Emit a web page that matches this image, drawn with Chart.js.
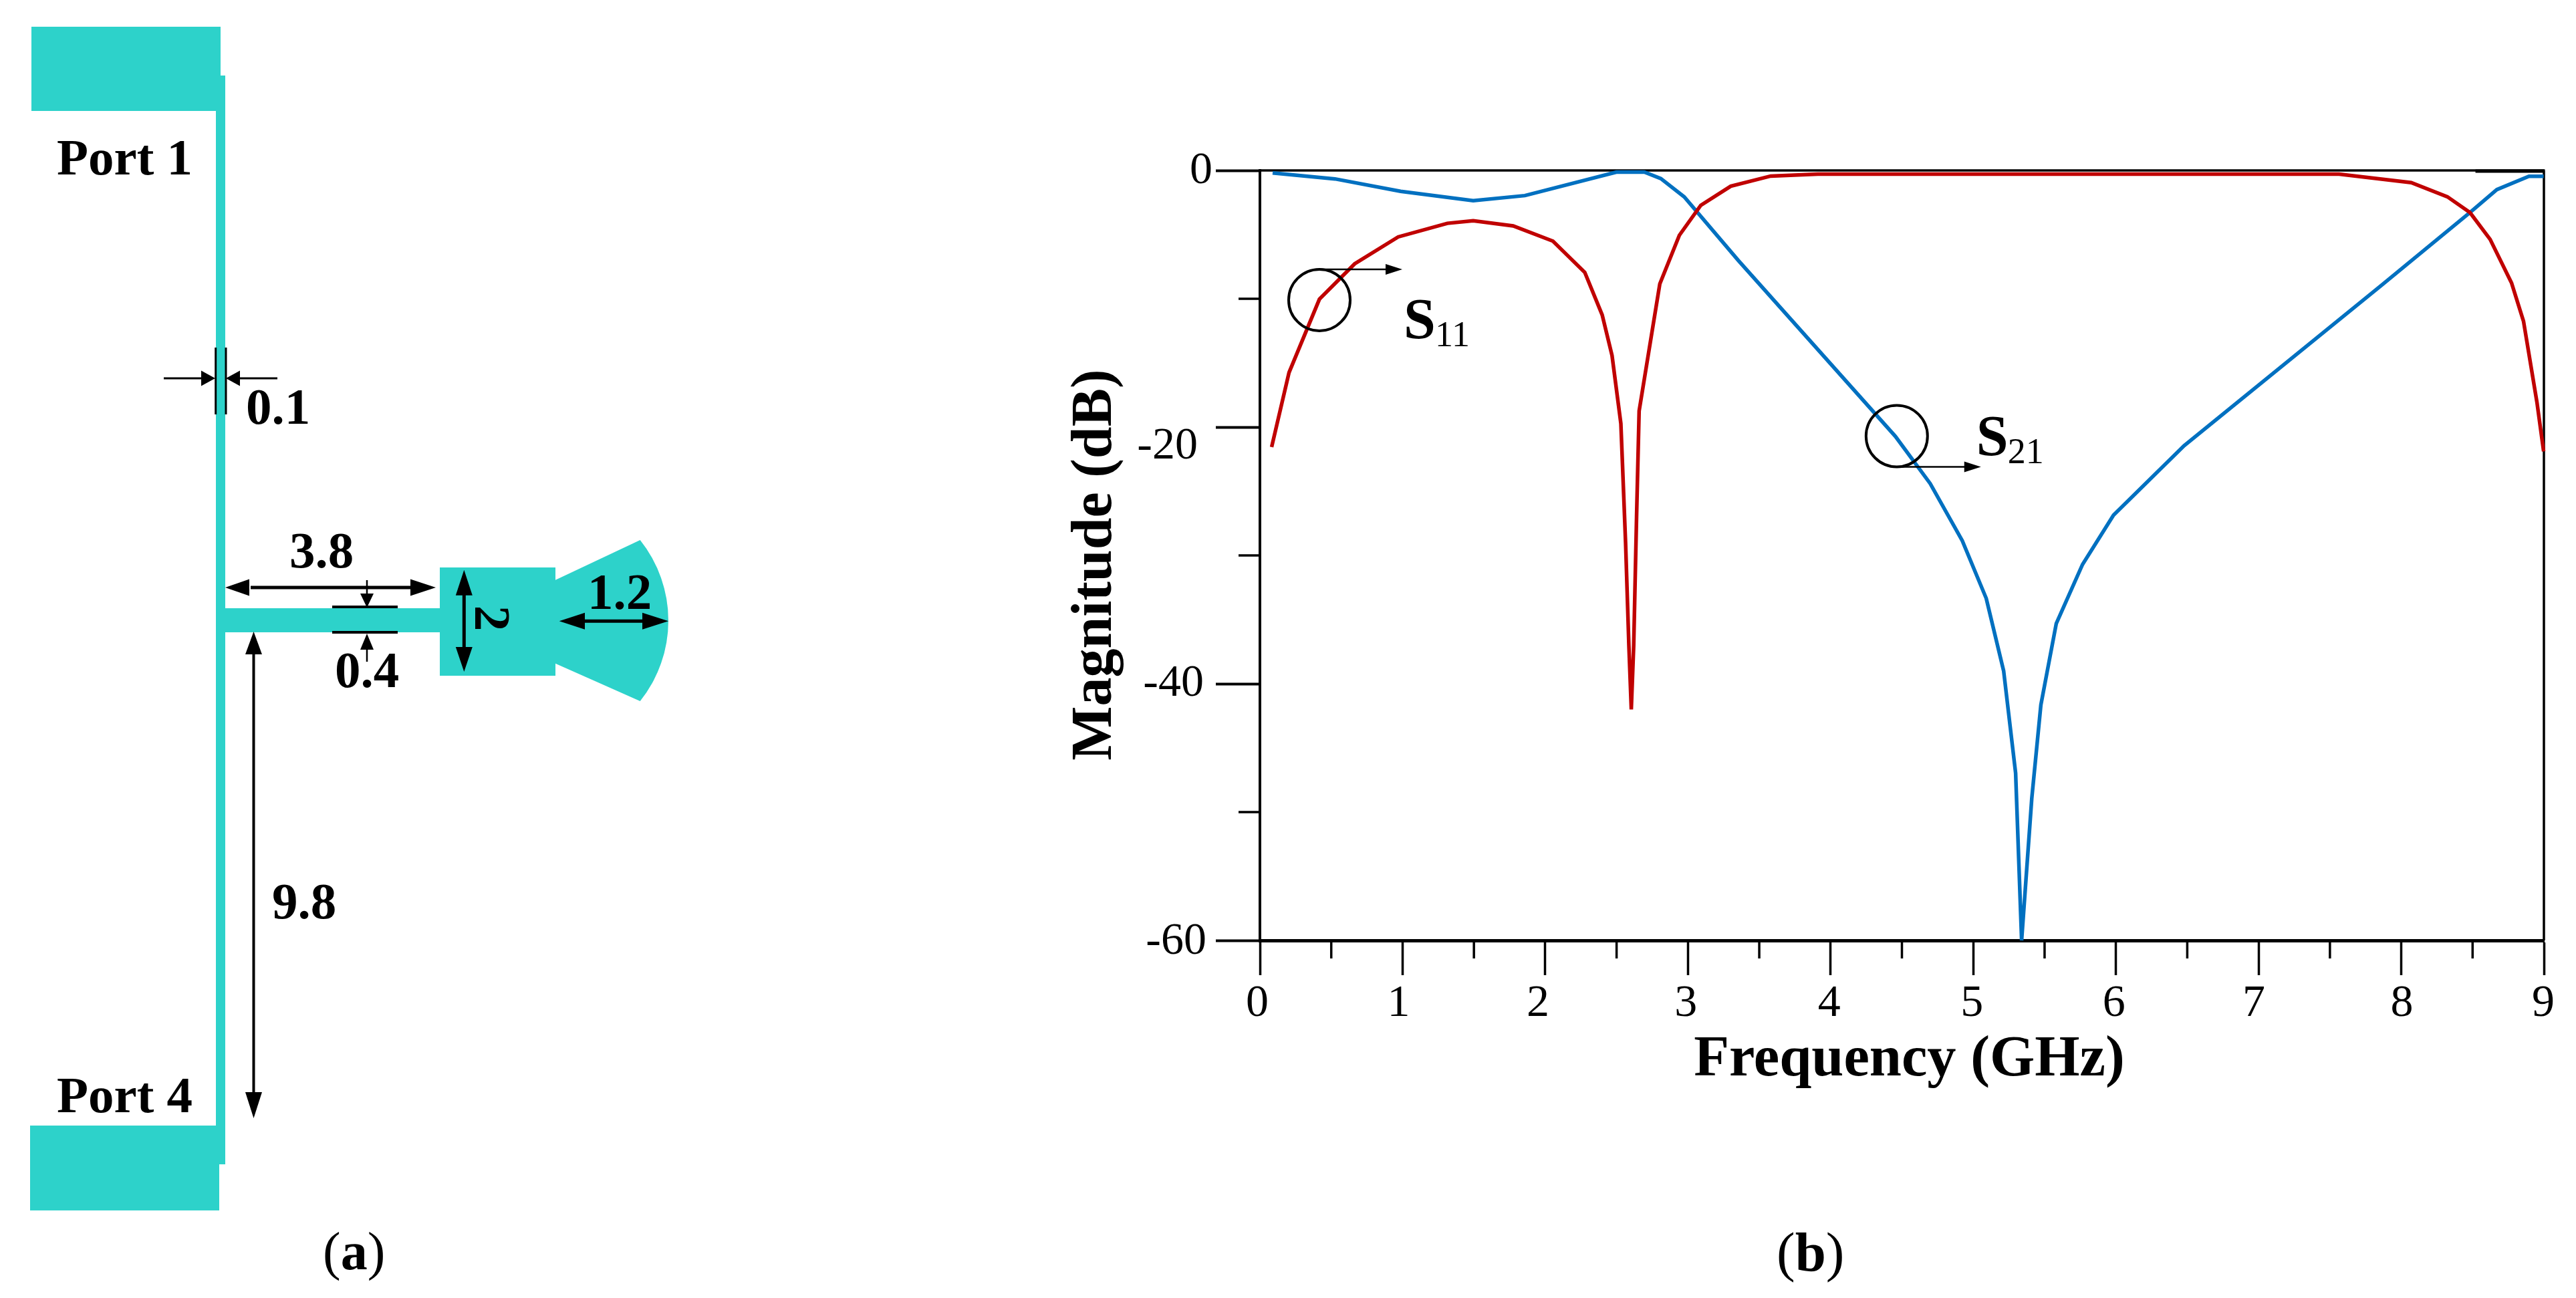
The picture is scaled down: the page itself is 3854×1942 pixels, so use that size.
<!DOCTYPE html>
<html>
<head>
<meta charset="utf-8">
<script src="https://cdn.jsdelivr.net/npm/chart.js@4/dist/chart.umd.js"></script>
<style>
html,body{margin:0;padding:0;background:#fff;width:3854px;height:1942px;overflow:hidden}
#wrap{position:relative;width:3854px;height:1942px}
canvas{position:absolute;left:0;top:0}
svg{position:absolute;left:0;top:0}
svg text{font-family:"Liberation Serif",serif;font-weight:bold;fill:#000}
</style>
</head>
<body>
<div id="wrap">
<canvas id="c" width="3854" height="1942"></canvas>
<svg width="3854" height="1942" viewBox="0 0 3854 1942" xmlns="http://www.w3.org/2000/svg">
  <g fill="#2dd2ca">
    <rect x="47" y="40" width="283" height="126"/>
    <rect x="323" y="113" width="14" height="1629"/>
    <rect x="45" y="1684" width="283" height="127"/>
    <rect x="337" y="910" width="321" height="36"/>
    <rect x="658" y="849" width="173" height="162"/>
    <path d="M831 867.7 L957.7 808 A193 193 0 0 1 957.7 1049 L831 992.7 Z"/>
  </g>
  <g stroke="#000" fill="none">
    <path d="M322.7 520V620M338 520V620" stroke-width="3"/>
    <path d="M245 566H305M415 566H355" stroke-width="3"/>
    <path d="M375 879H620" stroke-width="5"/>
    <path d="M549 868V892M549 968V990" stroke-width="2.5"/>
    <path d="M497 908H595M497 946H595" stroke-width="4"/>
    <path d="M694.3 885V975" stroke-width="5"/>
    <path d="M870 929.3H965" stroke-width="5"/>
    <path d="M379.5 975V1640" stroke-width="4"/>
  </g>
  <g fill="#000">
    <path d="M322 566L301 554.5V577.5Z"/>
    <path d="M338 566L359 554.5V577.5Z"/>
    <path d="M337 879L373 866.5V891.5Z"/>
    <path d="M652 879L614 866.5V891.5Z"/>
    <path d="M549 909L539 888H559Z"/>
    <path d="M549 948L539 972H559Z"/>
    <path d="M694.3 852.7L681.8 890.7H706.8Z"/>
    <path d="M694.3 1005L681.8 968H706.8Z"/>
    <path d="M836.7 929.3L875 916.8V941.8Z"/>
    <path d="M1000 929.3L961 916.8V941.8Z"/>
    <path d="M379.5 945L367 979H392Z"/>
    <path d="M379.5 1673L367 1634H392Z"/>
  </g>
  <g font-size="77">
    <text x="85" y="261">Port 1</text>
    <text x="85" y="1664">Port 4</text>
    <text x="368" y="634">0.1</text>
    <text x="433" y="849">3.8</text>
    <text x="501" y="1028">0.4</text>
    <text x="879" y="911">1.2</text>
    <text x="407" y="1374">9.8</text>
    <text text-anchor="middle" transform="translate(711,925) rotate(90)">2</text>
  </g>
  <g font-size="80">
    <text x="483" y="1899"><tspan font-weight="normal">(</tspan>a<tspan font-weight="normal">)</tspan></text>
  </g>
  <g font-size="83">
    <text x="2658" y="1901"><tspan font-weight="normal">(</tspan>b<tspan font-weight="normal">)</tspan></text>
  </g>
</svg>
</div>
<script>
// ---- chart data ----
const s11Freq = [0.082,0.204,0.417,0.664,0.969,1.314,1.495,1.775,2.054,2.277,2.399,2.468,2.53,2.563,2.586,2.603,2.62,2.64,2.658,2.803,2.94,3.09,3.30,3.58,3.911,5,6,7,7.564,8.07,8.323,8.482,8.623,8.773,8.857,8.951,8.998];
const s11Db   = [-21.56,-15.75,-10.03,-7.28,-5.18,-4.12,-3.92,-4.32,-5.51,-7.94,-11.26,-14.42,-19.73,-29,-37,-42,-37,-27,-18.74,-8.84,-5.05,-2.72,-1.23,-0.44,-0.29,-0.29,-0.29,-0.29,-0.29,-0.95,-2.05,-3.28,-5.37,-8.76,-11.75,-18.06,-21.9];
const s21Freq = [0.089,0.526,0.986,1.495,1.857,2.498,2.695,2.81,2.974,3.352,4.454,4.698,4.923,5.091,5.213,5.297,5.339,5.41,5.474,5.582,5.766,5.983,6.478,7.864,8.482,8.67,8.895,8.998];
const s21Db   = [-0.2,-0.66,-1.63,-2.36,-1.96,-0.13,-0.13,-0.63,-2.06,-7.0,-20.72,-24.4,-28.85,-33.35,-39,-46.96,-60,-48.96,-41.65,-35.3,-30.7,-26.86,-21.45,-8.93,-3.28,-1.49,-0.46,-0.46];
const xTickLabels = ['0','1','2','3','4','5','6','7','8','9'];
const yTickLabels = ['0','-20','-40','-60'];
const xMinorTicks = [0.5,1.5,2.5,3.5,4.5,5.5,6.5,7.5,8.5];
const yMinorTicks = [-10,-30,-50];
const seriesNames = ['S11','S21'];

// ---- styling ----
const RED = '#c00000', BLUE = '#0070c0';
const SERIF = '"Liberation Serif", serif';
const xLabelShift = [-4,-6,-11,-3,-2,-2,-3,-7,1,-1];
const yLabelShift = {0:[0,1], '-20':[-22,29], '-40':[-13,0], '-60':[-9,2]};
const toPts = (xs, ys) => xs.map((x, i) => ({x, y: ys[i]}));

const adjustAxes = {
  id: 'adjustAxes',
  afterLayout(chart) {
    const wrap = (s, dx, dy) => {
      if (s._wrapped) return;
      s._wrapped = true;
      const orig = s.drawTitle.bind(s);
      s.drawTitle = function () {
        const c = s.ctx; c.save(); c.translate(dx, dy); orig(); c.restore();
      };
    };
    wrap(chart.scales.x, 11, 0);
    wrap(chart.scales.y, 0, 14);
  },
  beforeDraw(chart) {
    const {x, y} = chart.scales;
    x.getLabelItems(chart.chartArea).forEach((it, i) => { it.options.translation[0] += xLabelShift[i] || 0; });
    y.getLabelItems(chart.chartArea).forEach((it) => {
      const d = yLabelShift[it.label] || [0, 0];
      it.options.translation[0] += d[0];
      it.options.translation[1] += d[1];
    });
  },
  beforeDatasetsDraw(chart) {
    const {ctx, chartArea: a, scales: {x, y}} = chart;
    ctx.save();
    ctx.strokeStyle = '#000';
    ctx.lineCap = 'butt';
    ctx.lineWidth = 3.5;
    ctx.beginPath();
    ctx.moveTo(a.left, a.top); ctx.lineTo(a.right + 1.5, a.top);
    ctx.moveTo(a.right, a.top); ctx.lineTo(a.right, a.bottom);
    ctx.stroke();
    ctx.lineWidth = 5;
    ctx.beginPath();
    ctx.moveTo(x.getPixelForValue(8.52), a.top + 1); ctx.lineTo(a.right, a.top + 1);
    ctx.stroke();
    ctx.lineWidth = 3.5;
    ctx.beginPath();
    xMinorTicks.forEach(v => { const p = x.getPixelForValue(v); ctx.moveTo(p, a.bottom); ctx.lineTo(p, a.bottom + 27); });
    yMinorTicks.forEach(v => { const p = y.getPixelForValue(v); ctx.moveTo(a.left, p); ctx.lineTo(a.left - 32, p); });
    ctx.stroke();
    ctx.restore();
  },
  afterDatasetsDraw(chart) {
    const {ctx, scales: {x, y}} = chart;
    const marker = (cf, cd, r, arrowDir, endF) => {
      const cx = x.getPixelForValue(cf), cy = y.getPixelForValue(cd);
      ctx.strokeStyle = '#000'; ctx.fillStyle = '#000';
      ctx.lineWidth = 4;
      ctx.beginPath(); ctx.arc(cx, cy, r, 0, Math.PI * 2); ctx.stroke();
      const ay = cy + arrowDir * r, ex = x.getPixelForValue(endF);
      ctx.lineWidth = 2.5;
      ctx.beginPath(); ctx.moveTo(cx, ay); ctx.lineTo(ex - 20, ay); ctx.stroke();
      ctx.beginPath(); ctx.moveTo(ex, ay); ctx.lineTo(ex - 25, ay - 8); ctx.lineTo(ex - 25, ay + 8); ctx.closePath(); ctx.fill();
    };
    const sLabel = (name, f, d) => {
      const px = x.getPixelForValue(f), py = y.getPixelForValue(d);
      ctx.fillStyle = '#000';
      ctx.textAlign = 'left'; ctx.textBaseline = 'alphabetic';
      ctx.font = 'bold 86px ' + SERIF;
      ctx.fillText(name[0], px - 3, py);
      ctx.font = '54px ' + SERIF;
      ctx.fillText(name.slice(1), px + 44, py + 12);
    };
    ctx.save();
    marker(0.417, -10.1, 46, -1, 0.998);
    marker(4.464, -20.7, 46, 1, 5.054);
    sLabel(seriesNames[0], 1.021, -13.07);
    sLabel(seriesNames[1], 5.035, -22.19);
    ctx.restore();
  }
};

new Chart(document.getElementById('c'), {
  type: 'scatter',
  data: {
    datasets: [
      {label: seriesNames[0], data: toPts(s11Freq, s11Db), showLine: true, borderColor: RED, backgroundColor: RED, borderWidth: 5.5, pointRadius: 0, tension: 0, clip: false},
      {label: seriesNames[1], data: toPts(s21Freq, s21Db), showLine: true, borderColor: BLUE, backgroundColor: BLUE, borderWidth: 5.5, pointRadius: 0, tension: 0, clip: false}
    ]
  },
  options: {
    responsive: false,
    animation: false,
    events: [],
    layout: {autoPadding: false, padding: {left: 1590, top: 255, right: 48, bottom: 0}},
    plugins: {legend: {display: false}, tooltip: {enabled: false}, title: {display: false}},
    scales: {
      x: {
        type: 'linear', min: 0, max: 9,
        afterFit(s) { s.height = 535; },
        border: {display: true, color: '#000', width: 5},
        grid: {display: true, drawOnChartArea: false, drawTicks: true, tickLength: 52, tickWidth: 3.5, tickColor: '#000', color: '#000'},
        ticks: {
          stepSize: 1, autoSkip: false, maxRotation: 0, padding: 2, color: '#000',
          font: {family: SERIF, size: 68},
          callback: (v) => xTickLabels[v]
        },
        title: {display: true, text: 'Frequency (GHz)', color: '#000', font: {family: SERIF, size: 86.5, weight: 'bold', lineHeight: 1}, padding: {top: 0, bottom: 312}}
      },
      y: {
        type: 'linear', min: -60, max: 0,
        afterFit(s) { s.width = 295; },
        border: {display: true, color: '#000', width: 4},
        grid: {display: true, drawOnChartArea: false, drawTicks: true, tickLength: 66, tickWidth: 4, tickColor: '#000', color: '#000'},
        ticks: {
          stepSize: 20, autoSkip: false, padding: 5, color: '#000',
          font: {family: SERIF, size: 68},
          callback: (v) => yTickLabels[Math.round(-v / 20)]
        },
        title: {display: true, text: 'Magnitude (dB)', color: '#000', font: {family: SERIF, size: 86, weight: 'bold', lineHeight: 1}, padding: {top: 7, bottom: 0}}
      }
    }
  },
  plugins: [adjustAxes]
});
</script>
</body>
</html>
